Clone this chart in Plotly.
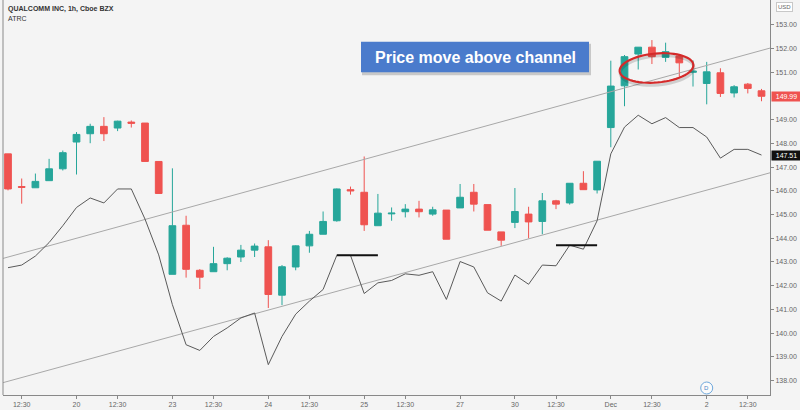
import math
import plotly.graph_objects as go

# ---------------- data ----------------
bar_index = list(range(56))
opens = [147.56, 146.18, 146.13, 146.43, 146.93, 148.06, 148.41, 148.72, 148.65, 148.90,
         148.86, 147.24, 142.48, 144.55, 142.65, 142.59, 142.93, 143.21, 143.50, 143.64,
         141.60, 142.79, 143.68, 144.17, 144.74, 146.05, 145.94, 144.53, 145.03, 145.12,
         145.23, 145.02, 145.19, 145.28, 145.94, 145.42, 144.27, 144.67, 145.02, 144.71,
         145.58, 145.49, 146.32, 146.04, 148.67, 150.43, 151.77, 152.06, 151.63, 151.69,
         151.00, 150.53, 150.98, 150.13, 150.50, 150.22]
highs = [147.56, 146.52, 146.73, 147.35, 147.70, 148.48, 148.83, 149.11, 148.96, 148.97,
         148.86, 147.24, 146.95, 144.95, 142.70, 143.64, 143.20, 143.72, 143.78, 143.92,
         142.87, 143.70, 144.31, 145.13, 146.10, 146.18, 147.45, 145.87, 145.30, 145.44,
         145.58, 145.33, 145.19, 146.29, 146.29, 145.42, 144.27, 146.12, 145.33, 145.91,
         145.62, 146.32, 146.83, 147.25, 151.49, 151.73, 152.06, 152.36, 152.25, 151.69,
         151.50, 151.44, 151.17, 150.46, 150.55, 150.30]
lows = [146.02, 145.46, 146.13, 146.43, 146.86, 146.69, 148.01, 148.10, 148.52, 148.67,
        147.24, 145.89, 142.48, 142.34, 141.86, 142.59, 142.65, 143.00, 143.21, 141.06,
        141.18, 142.65, 143.39, 144.17, 144.70, 145.84, 144.31, 144.53, 144.74, 144.88,
        144.88, 144.95, 143.96, 145.28, 145.13, 144.34, 143.68, 144.43, 144.00, 144.17,
        145.23, 145.42, 146.05, 145.89, 147.84, 149.57, 151.12, 151.35, 151.44, 150.81,
        150.40, 149.65, 149.96, 149.94, 150.11, 149.78]
closes = [146.08, 146.15, 146.40, 146.93, 147.61, 148.38, 148.72, 148.41, 148.94, 148.85,
          147.24, 145.89, 144.53, 142.69, 142.36, 142.93, 143.16, 143.50, 143.67, 141.63,
          142.80, 143.68, 144.17, 144.71, 146.08, 146.00, 144.57, 145.06, 145.06, 145.23,
          145.12, 145.20, 143.96, 145.73, 145.44, 144.34, 143.92, 145.13, 144.69, 145.58,
          145.44, 146.32, 146.05, 147.25, 150.42, 151.66, 152.06, 151.66, 151.87, 151.40,
          151.05, 151.02, 150.11, 150.39, 150.32, 149.99]
atrc = [142.76, 142.87, 143.25, 143.82, 144.53, 145.30, 145.70, 145.49, 146.08, 146.08,
        144.81, 143.30, 141.20, 139.51, 139.27, 139.86, 140.22, 140.64, 140.85, 138.67,
        139.86, 140.80, 141.35, 141.84, 143.28, 143.28, 141.67, 142.12, 142.22, 142.50,
        142.44, 142.59, 141.42, 143.02, 142.79, 141.70, 141.35, 142.45, 142.06, 142.87,
        142.84, 143.71, 143.54, 144.74, 147.56, 148.69, 149.19, 148.83, 149.09, 148.67,
        148.67, 148.27, 147.38, 147.75, 147.75, 147.51]

channel_x = [-1, 57]
channel_upper = [143.05, 152.24]
channel_lower = [137.81, 146.98]

level1_x = [24, 27]
level1_y = [143.28, 143.28]
level2_x = [40, 43]
level2_y = [143.71, 143.71]

tick_idx = [1, 5, 8, 12, 15, 19, 22, 26, 29, 33, 37, 40, 44, 47, 51, 54]
tick_txt = ["12:30", "20", "12:30", "23", "12:30", "24", "12:30", "25", "12:30",
            "27", "30", "12:30", "Dec", "12:30", "2", "12:30"]
price_ticks = [138, 139, 140, 141, 142, 143, 144, 145, 146, 147, 148, 149, 151, 152, 153]

UP = "#26a69a"
DN = "#ef5350"
BG = "#f4f4f4"

fig = go.Figure()

# channel lines
for ys in (channel_upper, channel_lower):
    fig.add_trace(go.Scatter(x=channel_x, y=ys, mode="lines",
                             line=dict(color="#a8a8a8", width=1), hoverinfo="skip"))

# ATRC line
fig.add_trace(go.Scatter(x=bar_index, y=atrc, mode="lines",
                         line=dict(color="#5a5a5a", width=1), hoverinfo="skip"))

# levels
for xs, ys in ((level1_x, level1_y), (level2_x, level2_y)):
    fig.add_trace(go.Scatter(x=xs, y=ys, mode="lines",
                             line=dict(color="#111111", width=2), hoverinfo="skip"))

# candles
fig.add_trace(go.Candlestick(
    x=bar_index, open=opens, high=highs, low=lows, close=closes,
    increasing=dict(line=dict(color=UP, width=1), fillcolor=UP),
    decreasing=dict(line=dict(color=DN, width=1), fillcolor=DN),
    whiskerwidth=0,
))

# pixel helpers (plot area: x 3..770, y 0..395)
PL, PR, PB = 3, 770, 395


def px_x(px):
    return (px - PL) / (PR - PL)


def px_y(py):
    return (PB - py) / PB


shapes = []
# left border
shapes.append(dict(type="line", xref="paper", yref="paper", x0=0, x1=0, y0=0, y1=1,
                   line=dict(color="#8a8a8a", width=1)))

# annotation box with shadow
bx0, bx1, by0, by1 = 361, 589, 41.7, 72.3
shapes.append(dict(type="rect", xref="paper", yref="paper",
                   x0=px_x(bx0 + 1), x1=px_x(bx1 + 2), y0=px_y(by1 + 3), y1=px_y(by0 + 2),
                   fillcolor="rgba(0,0,0,0.18)", line=dict(width=0), layer="above"))
shapes.append(dict(type="rect", xref="paper", yref="paper",
                   x0=px_x(bx0), x1=px_x(bx1), y0=px_y(by1), y1=px_y(by0),
                   fillcolor="#4a7bcc", line=dict(width=0), layer="above"))


# tilted ellipse (pixel parameters)
def ellipse_path(cx, cy, rx, ry, ang_deg, n=60):
    a = math.radians(ang_deg)
    pts = []
    for k in range(n + 1):
        t = 2 * math.pi * k / n
        ex, ey = rx * math.cos(t), ry * math.sin(t)
        X = cx + ex * math.cos(a) - ey * math.sin(a)
        Y = cy + ex * math.sin(a) + ey * math.cos(a)
        pts.append((px_x(X), px_y(Y)))
    return "M " + " L ".join(f"{p[0]:.5f},{p[1]:.5f}" for p in pts) + " Z"


shapes.append(dict(type="path", xref="paper", yref="paper",
                   path=ellipse_path(657, 70.5, 37, 14.5, -5),
                   line=dict(color="rgba(0,0,0,0.15)", width=3), layer="above"))
shapes.append(dict(type="path", xref="paper", yref="paper",
                   path=ellipse_path(656.5, 68, 37, 14.5, -5),
                   line=dict(color="#d42a2a", width=2.2), layer="above"))

# dividend marker
shapes.append(dict(type="circle", xref="x", yref="paper", xsizemode="pixel",
                   ysizemode="pixel", xanchor=51, yanchor=px_y(388),
                   x0=-6, x1=6, y0=-6, y1=6, line=dict(color="#6fa8dc", width=1),
                   fillcolor="rgba(255,255,255,0.6)"))

annotations = [
    dict(text="<b>Price move above channel</b>", xref="paper", yref="paper",
         x=px_x((bx0 + bx1) / 2), y=px_y((by0 + by1) / 2), showarrow=False,
         font=dict(family="Liberation Sans, Arial", size=16, color="white"),
         xanchor="center", yanchor="middle"),
    dict(text="<b>QUALCOMM INC, 1h, Cboe BZX</b>", xref="paper", yref="paper", x=0, y=1,
         xshift=3, yshift=-3, xanchor="left", yanchor="top", showarrow=False,
         font=dict(family="Liberation Sans, Arial", size=7, color="#333333")),
    dict(text="ATRC", xref="paper", yref="paper", x=0, y=1,
         xshift=3, yshift=-13, xanchor="left", yanchor="top", showarrow=False,
         font=dict(family="Liberation Sans, Arial", size=7, color="#333333")),
    dict(text="D", xref="x", yref="paper", x=51, y=px_y(388), showarrow=False,
         font=dict(family="Liberation Sans, Arial", size=6, color="#4a86c8"),
         xanchor="center", yanchor="middle"),
    dict(text="149.99", xref="paper", yref="y", x=1, y=closes[-1], xanchor="left",
         yanchor="middle", showarrow=False, xshift=1, bgcolor=DN, borderpad=1,
         width=27, font=dict(family="Liberation Sans, Arial", size=7, color="white")),
    dict(text="147.51", xref="paper", yref="y", x=1, y=atrc[-1], xanchor="left",
         yanchor="middle", showarrow=False, xshift=1, bgcolor="#111111", borderpad=1,
         width=27, font=dict(family="Liberation Sans, Arial", size=7, color="white")),
    dict(text="USD", xref="paper", yref="paper", x=1, y=1, xanchor="left",
         yanchor="top", showarrow=False, xshift=6, yshift=-2, bgcolor="white",
         bordercolor="#c8c8c8", borderwidth=1, borderpad=1,
         font=dict(family="Liberation Sans, Arial", size=6, color="#666666")),
]

fig.update_layout(
    width=800, height=410,
    margin=dict(l=PL, r=800 - PR, t=0, b=410 - PB),
    paper_bgcolor=BG, plot_bgcolor=BG,
    showlegend=False,
    shapes=shapes, annotations=annotations,
    xaxis=dict(range=[-0.365, 55.62], showgrid=False, zeroline=False,
               showline=True, linecolor="#888888", linewidth=1,
               ticks="outside", ticklen=3, tickcolor="#888888",
               tickvals=tick_idx, ticktext=tick_txt,
               tickfont=dict(family="Liberation Sans, Arial", size=7, color="#666666"),
               rangeslider=dict(visible=False), fixedrange=True),
    yaxis=dict(range=[137.39, 154.05], side="right", showgrid=False, zeroline=False,
               showline=True, linecolor="#888888", linewidth=1,
               ticks="outside", ticklen=3, tickcolor="#888888",
               tickvals=price_ticks, ticktext=[f"{v:.2f}" for v in price_ticks],
               tickfont=dict(family="Liberation Sans, Arial", size=7, color="#666666"),
               fixedrange=True),
)

fig.write_html("out.html")
